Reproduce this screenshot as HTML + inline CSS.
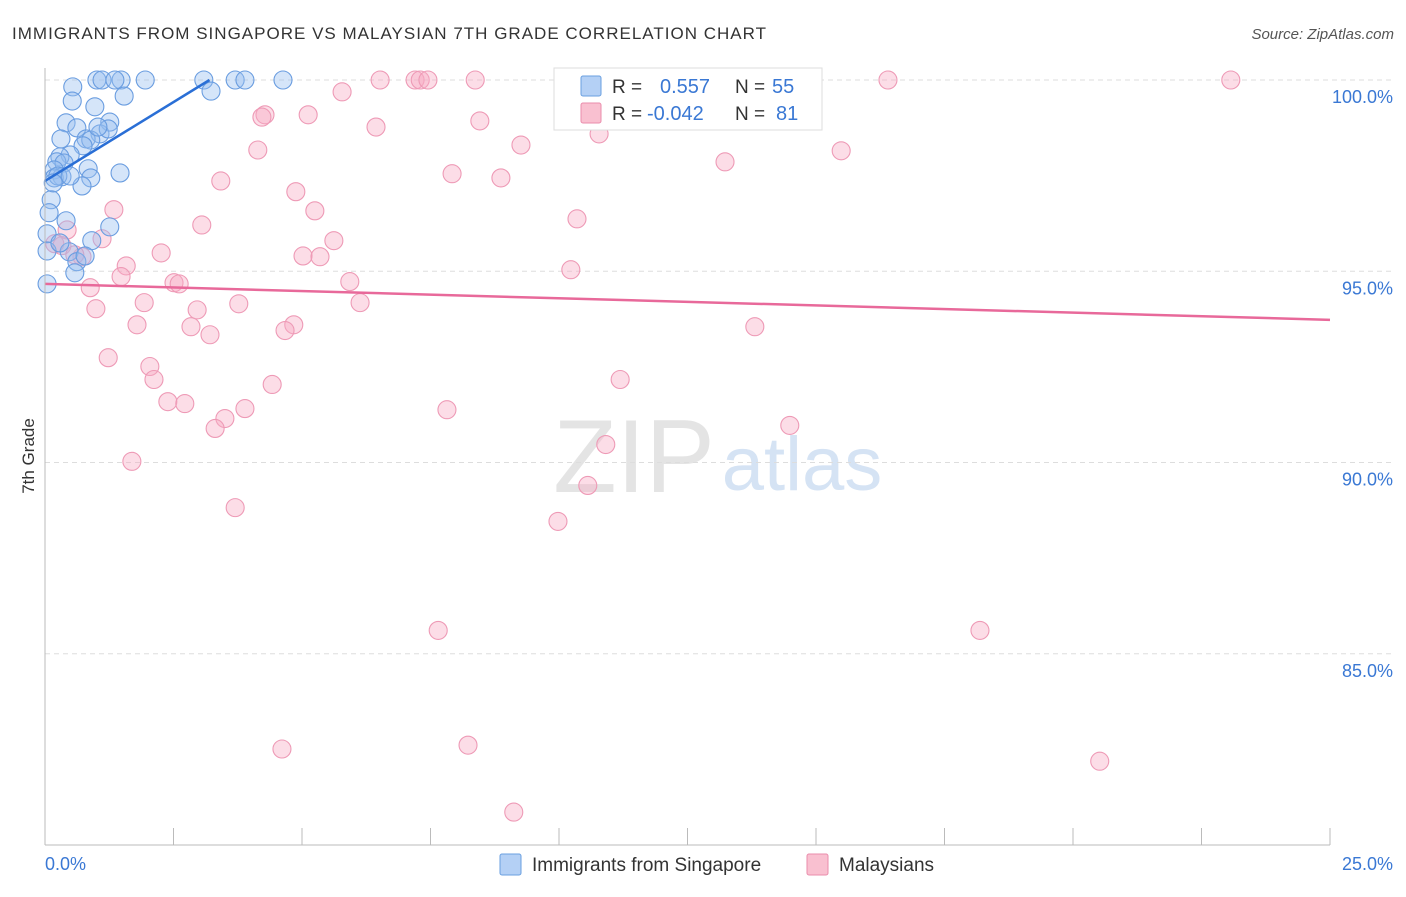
<!DOCTYPE html>
<html><head><meta charset="utf-8"><style>
body{margin:0;background:#fff;font-family:"Liberation Sans",sans-serif}
svg text{font-family:"Liberation Sans",sans-serif}
</style></head><body>
<svg id="chart" width="1406" height="892">
<text x="12" y="39" font-size="17" fill="#333" textLength="754">IMMIGRANTS FROM SINGAPORE VS MALAYSIAN 7TH GRADE CORRELATION CHART</text>
<text x="1394" y="39" font-size="15" fill="#555" font-style="italic" text-anchor="end">Source: ZipAtlas.com</text>
<text x="34" y="456" font-size="17" fill="#333" text-anchor="middle" transform="rotate(-90 34 456)">7th Grade</text>
<g><text x="634" y="492" font-size="104" fill="#e4e4e4" font-family="Liberation Serif" text-anchor="middle">ZIP</text><text x="802" y="490" font-size="76" fill="#d5e3f4" text-anchor="middle">atlas</text></g>
<g id="grid"></g><g id="pts"></g><g id="trend"></g><g id="axes"></g>
<g>
<rect x="554" y="68" width="268" height="62" fill="#fff" stroke="#ddd"/>
<rect x="581" y="76" width="20" height="20" fill="#b4d0f5" stroke="#6a9fe0" rx="2"/>
<rect x="581" y="103" width="20" height="20" fill="#f9c0d0" stroke="#ea8cab" rx="2"/>
<text x="612" y="93" font-size="19" fill="#333">R = </text><text x="660" y="93" font-size="20" fill="#3a78d4">0.557</text>
<text x="735" y="93" font-size="19" fill="#333">N = </text><text x="772" y="93" font-size="20" fill="#3a78d4">55</text>
<text x="612" y="120" font-size="19" fill="#333">R = </text><text x="647" y="120" font-size="20" fill="#3a78d4">-0.042</text>
<text x="735" y="120" font-size="19" fill="#333">N = </text><text x="776" y="120" font-size="20" fill="#3a78d4">81</text>
</g>
<g>
<rect x="500" y="854" width="21" height="21" fill="#b4d0f5" stroke="#6a9fe0" rx="2"/>
<text x="532" y="871" font-size="19" fill="#333">Immigrants from Singapore</text>
<rect x="807" y="854" width="21" height="21" fill="#f9c0d0" stroke="#ea8cab" rx="2"/>
<text x="839" y="871" font-size="19" fill="#333">Malaysians</text>
</g>
</svg>
<script>
const blueX=[1.01,1.11,1.48,1.95,3.09,3.70,3.89,4.63,0.54,1.36,1.54,3.23,0.53,0.97,0.41,0.62,1.26,1.07,0.80,0.89,0.31,0.74,0.49,0.29,0.23,0.37,0.18,0.84,1.46,0.33,0.18,0.89,0.72,0.12,0.08,0.41,1.26,0.91,0.04,0.47,0.04,0.62,0.58,0.04,1.23,1.03,0.25,0.49,0.16,0.29,0.78];
const blueY=[100,100,100,100,100,100,100,100,99.82,100,99.58,99.71,99.45,99.30,98.88,98.75,98.90,98.59,98.46,98.43,98.46,98.28,98.04,97.99,97.86,97.83,97.65,97.68,97.57,97.47,97.44,97.44,97.23,96.87,96.53,96.32,96.16,95.80,95.98,95.51,95.53,95.25,94.96,94.67,98.72,98.77,97.49,97.49,97.31,95.74,95.40];
const pinkX=[6.52,7.20,7.30,7.45,8.37,11.52,16.40,23.07,14.07,5.78,4.28,4.22,5.12,6.44,8.46,10.78,9.26,4.14,15.49,13.23,7.92,8.87,3.42,4.88,1.34,5.25,10.35,3.05,0.43,1.11,5.62,0.19,2.26,5.02,5.35,0.72,10.23,1.58,1.48,2.51,2.61,5.93,0.88,1.93,3.77,6.13,2.96,0.99,1.79,2.84,4.84,4.67,3.21,13.81,1.23,2.04,2.12,11.19,4.42,2.39,2.72,3.89,7.82,3.50,3.31,14.49,10.91,1.69,10.56,3.70,9.98,7.65,18.19,4.61,8.23,20.52,9.12,0.33,0.58];
const pinkY=[100,100,100,100,100,100,100,100,100,99.69,99.09,99.03,99.09,98.77,98.93,98.59,98.30,98.17,98.15,97.86,97.55,97.44,97.36,97.08,96.61,96.58,96.37,96.21,96.08,95.85,95.80,95.72,95.48,95.40,95.38,95.38,95.04,95.14,94.86,94.70,94.67,94.73,94.57,94.18,94.15,94.18,93.99,94.02,93.60,93.55,93.60,93.45,93.34,93.55,92.74,92.51,92.17,92.17,92.04,91.59,91.54,91.41,91.38,91.15,90.89,90.97,90.47,90.03,89.40,88.82,88.46,85.61,85.61,82.51,82.61,82.19,80.86,95.67,95.43];
const blueTrendX=[0,3.2], blueTrendY=[97.36,100];
const pinkTrendX=[0,25], pinkTrendY=[94.67,93.73];
const yTicks=[100,95,90,85], yTickLabels=["100.0%","95.0%","90.0%","85.0%"];
const xTicks=[0,2.5,5,7.5,10,12.5,15,17.5,20,22.5,25];
const X0=45,X1=1330,Y0=80,YB=845;
const sx=v=>X0+(v/25)*(X1-X0);
const sy=v=>Y0+(100-v)*(YB-Y0)/20;
const NS="http://www.w3.org/2000/svg";
function mk(parent,tag,attrs){const e=document.createElementNS(NS,tag);for(const k in attrs)e.setAttribute(k,attrs[k]);document.getElementById(parent).appendChild(e);return e;}
yTicks.forEach((t,i)=>{
 const l=mk('grid','line',{x1:X0,x2:1394,y1:sy(t),y2:sy(t),stroke:'#ddd','stroke-dasharray':'5,4'});
 
 
 const tx=mk('axes','text',{x:1393,y:sy(t)+23,'font-size':18,fill:'#3a78d4','text-anchor':'end'});
 tx.textContent=yTickLabels[i];
 
 
});
let ax=mk('axes','line',{x1:X0,x2:X0,y1:68,y2:YB,stroke:'#bbb'});


ax=mk('axes','line',{x1:X0,x2:X1,y1:YB,y2:YB,stroke:'#bbb'});


xTicks.forEach(t=>{
 const l=mk('axes','line',{x1:sx(t),x2:sx(t),y1:828,y2:YB,stroke:'#bbb'});
 
 
});
let t0=mk('axes','text',{x:45,y:870,'font-size':18,fill:'#3a78d4'});t0.textContent='0.0%';


t0=mk('axes','text',{x:1393,y:870,'font-size':18,fill:'#3a78d4','text-anchor':'end'});t0.textContent='25.0%';


pinkX.forEach((x,i)=>{
 const c=mk('pts','circle',{cx:sx(x),cy:sy(pinkY[i]),r:9,fill:'rgba(247,170,195,0.4)',stroke:'#ee9ab6','stroke-width':1.1});
 
 
});
blueX.forEach((x,i)=>{
 const c=mk('pts','circle',{cx:sx(x),cy:sy(blueY[i]),r:9,fill:'rgba(150,190,240,0.4)',stroke:'#6a9de0','stroke-width':1.1});
 
 
});
let tl=mk('trend','line',{x1:sx(blueTrendX[0]),y1:sy(blueTrendY[0]),x2:sx(blueTrendX[1]),y2:sy(blueTrendY[1]),stroke:'#2a6fd6','stroke-width':2.5});


tl=mk('trend','line',{x1:sx(pinkTrendX[0]),y1:sy(pinkTrendY[0]),x2:sx(pinkTrendX[1]),y2:sy(pinkTrendY[1]),stroke:'#e8699a','stroke-width':2.5});


</script>
</body></html>
